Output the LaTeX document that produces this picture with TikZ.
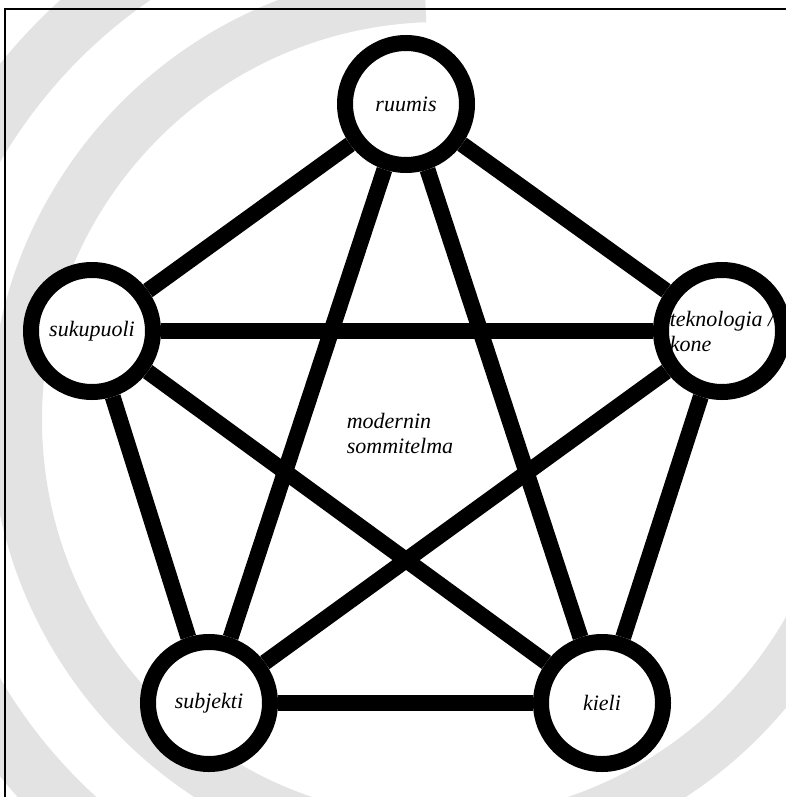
\documentclass[tikz,border=0pt]{standalone}
\usepackage{fontspec}
\setmainfont{Liberation Serif}

\begin{document}
\begin{tikzpicture}[
    x=0.5pt, y=-0.5pt,
    font=\fontsize{11}{12.5}\selectfont\itshape,
    term/.style={draw, circle, line width=8pt, fill=white,
                 minimum size=61pt, inner sep=0pt, align=center},
    link/.style={line width=8pt},
    ring/.style={draw=black!11},
  ]
  \useasboundingbox (0,0) rectangle (786,797);
  \clip (0,0) rectangle (786,797);
  % --- background rings ---
  \coordinate (o) at (440,420);
  \draw[ring, line width=28pt] (o) ++(60:269pt)
    arc[start angle=60, end angle=300, radius=269pt];
  \draw[ring, line width=26pt] (o) ++(92:212pt)
    arc[start angle=92, end angle=355, radius=212pt];
  % --- frame ---
  \draw[line width=1pt] (5,820) -- (5,9) -- (800,9);
  % --- terms ---
  \node[term] (ruumis) at (406,104) {ruumis};
  \node[term] (sukupuoli) at (92,331) {sukupuoli};
  \node[term, align=left] (tekno) at (722,331) {teknologia /\\kone};
  \node[term] (subjekti) at (209,703) {subjekti};
  \node[term] (kieli) at (602,703) {kieli};
  \node[align=left] (mid) at (400,433) {modernin\\sommitelma};
  % --- links ---
  \foreach \a/\b in {ruumis/sukupuoli, ruumis/tekno, ruumis/subjekti,
                     ruumis/kieli, sukupuoli/tekno, sukupuoli/subjekti,
                     sukupuoli/kieli, tekno/subjekti, tekno/kieli,
                     subjekti/kieli}
    \draw[link] (\a) -- (\b);
\end{tikzpicture}
\end{document}
